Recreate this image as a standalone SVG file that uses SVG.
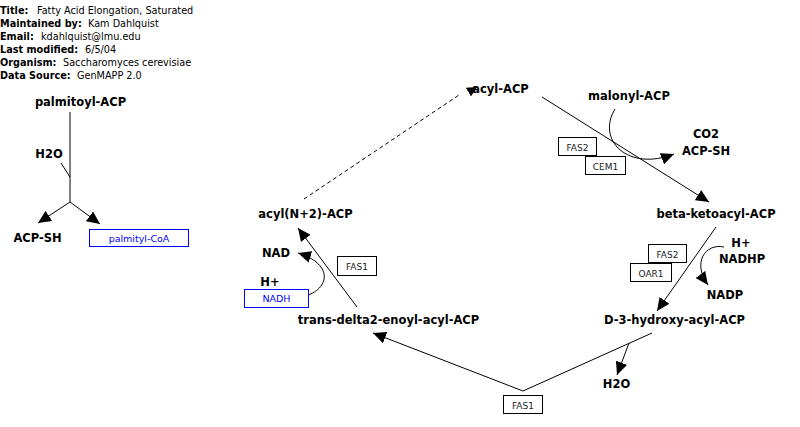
<svg xmlns="http://www.w3.org/2000/svg" width="800" height="427" viewBox="0 0 800 427">
<defs>
<style>
.hdr{font-family:"DejaVu Sans",sans-serif;font-size:9.7px;fill:#000}
.hb{font-weight:bold}
.lbl{font-family:"DejaVu Sans",sans-serif;font-size:11.5px;font-weight:bold;fill:#000;text-anchor:middle}
.gene rect{fill:#fff;stroke:#000;stroke-width:1}
.gene text{font-family:"DejaVu Sans",sans-serif;font-size:9px;fill:#222;text-anchor:middle}
.blue rect{fill:#fff;stroke:#0000ff;stroke-width:1}
.blue text{font-family:"DejaVu Sans",sans-serif;font-size:9.5px;fill:#0000ff;text-anchor:middle}
.ln{fill:none;stroke:#000;stroke-width:1}
.arr{marker-end:url(#ah)}
.dash{stroke-dasharray:4,3}
</style>
<marker id="ah" markerUnits="userSpaceOnUse" markerWidth="14" markerHeight="12" refX="13" refY="6" orient="auto">
<path d="M0,0 L13,6 L0,12 Z" fill="#000"/>
</marker>
<marker id="ahs" markerUnits="userSpaceOnUse" markerWidth="11" markerHeight="10" refX="10" refY="5" orient="auto">
<path d="M0,0 L10,5 L0,10 Z" fill="#000"/>
</marker>
</defs>
<rect width="800" height="427" fill="#fff"/>

<g id="header">
<text class="hdr" x="0" y="14"><tspan class="hb">Title:</tspan><tspan x="37">Fatty Acid Elongation, Saturated</tspan></text>
<text class="hdr" x="0" y="27"><tspan class="hb">Maintained by:</tspan><tspan x="88">Kam Dahlquist</tspan></text>
<text class="hdr" x="0" y="40"><tspan class="hb">Email:</tspan><tspan x="41">kdahlquist@lmu.edu</tspan></text>
<text class="hdr" x="0" y="53"><tspan class="hb">Last modified:</tspan><tspan x="85">6/5/04</tspan></text>
<text class="hdr" x="0" y="66"><tspan class="hb">Organism:</tspan><tspan x="63">Saccharomyces cerevisiae</tspan></text>
<text class="hdr" x="0" y="79"><tspan class="hb">Data Source:</tspan><tspan x="77">GenMAPP 2.0</tspan></text>
</g>

<g id="connectors">
<path class="ln" d="M70,112 L70,202"/>
<path class="ln" d="M61,163 L70,177"/>
<path class="ln arr" d="M70,202 L38,223"/>
<path class="ln arr" d="M70,202 L100,224"/>
<path class="ln dash" d="M304,199 L459,95"/>
<path d="M467,93 L477,87" stroke="none" fill="none" marker-end="url(#ahs)"/>
<path class="ln arr" d="M542,97 L709,202"/>
<path class="ln arr" d="M615,109 C596,140 628,172 674,154"/>
<path class="ln arr" d="M716,227 L657,311"/>
<path class="ln arr" d="M724,247 C705,243 692,263 708,285"/>
<path class="ln" d="M652,333 L523,391"/>
<path class="ln arr" d="M523,391 L373,333"/>
<path class="ln arr" d="M629,343 L617,375"/>
<path class="ln arr" d="M357,307 L298,228"/>
<path class="ln arr" d="M295,297 C326,297 340,266 298,253"/>
</g>

<g id="palmitoyl-ACP"><text class="lbl" x="80.5" y="106">palmitoyl-ACP</text></g>
<g id="H2O-left"><text class="lbl" x="49" y="158">H2O</text></g>
<g id="ACP-SH-left"><text class="lbl" x="37.5" y="242">ACP-SH</text></g>
<g id="palmityl-CoA" class="blue"><rect x="89.5" y="229.5" width="99" height="17"/><text x="139" y="241.5">palmityl-CoA</text></g>

<g id="acyl-ACP"><text class="lbl" x="500.5" y="93">acyl-ACP</text></g>
<g id="malonyl-ACP"><text class="lbl" x="629" y="100">malonyl-ACP</text></g>
<g id="CO2"><text class="lbl" x="706" y="138">CO2</text></g>
<g id="ACP-SH"><text class="lbl" x="706" y="155">ACP-SH</text></g>
<g id="FAS2-a" class="gene"><rect x="558.5" y="137.5" width="38" height="18"/><text x="577.5" y="151">FAS2</text></g>
<g id="CEM1" class="gene"><rect x="585.5" y="156.5" width="40" height="18"/><text x="605.5" y="170">CEM1</text></g>

<g id="beta-ketoacyl-ACP"><text class="lbl" x="716" y="218">beta-ketoacyl-ACP</text></g>
<g id="H-plus-right"><text class="lbl" x="741" y="247">H+</text></g>
<g id="NADHP"><text class="lbl" x="742" y="263">NADHP</text></g>
<g id="NADP"><text class="lbl" x="725" y="299">NADP</text></g>
<g id="FAS2-b" class="gene"><rect x="648.5" y="244.5" width="38" height="18"/><text x="667.5" y="257.5">FAS2</text></g>
<g id="OAR1" class="gene"><rect x="630.5" y="263.5" width="41" height="18"/><text x="651" y="277">OAR1</text></g>

<g id="D-3-hydroxy-acyl-ACP"><text class="lbl" x="674.5" y="324">D-3-hydroxy-acyl-ACP</text></g>
<g id="H2O-right"><text class="lbl" x="616.5" y="388">H2O</text></g>
<g id="FAS1-a" class="gene"><rect x="503.5" y="395.5" width="39" height="18"/><text x="523" y="408.5">FAS1</text></g>

<g id="trans-delta2-enoyl-acyl-ACP"><text class="lbl" x="388.5" y="324">trans-delta2-enoyl-acyl-ACP</text></g>
<g id="acyl-N2-ACP"><text class="lbl" x="305.5" y="218">acyl(N+2)-ACP</text></g>
<g id="NAD"><text class="lbl" x="276" y="257">NAD</text></g>
<g id="H-plus-left"><text class="lbl" x="270" y="286">H+</text></g>
<g id="NADH" class="blue"><rect x="244.5" y="289.5" width="64" height="18"/><text x="276.5" y="302">NADH</text></g>
<g id="FAS1-b" class="gene"><rect x="337.5" y="256.5" width="39" height="19"/><text x="357" y="270">FAS1</text></g>
</svg>
